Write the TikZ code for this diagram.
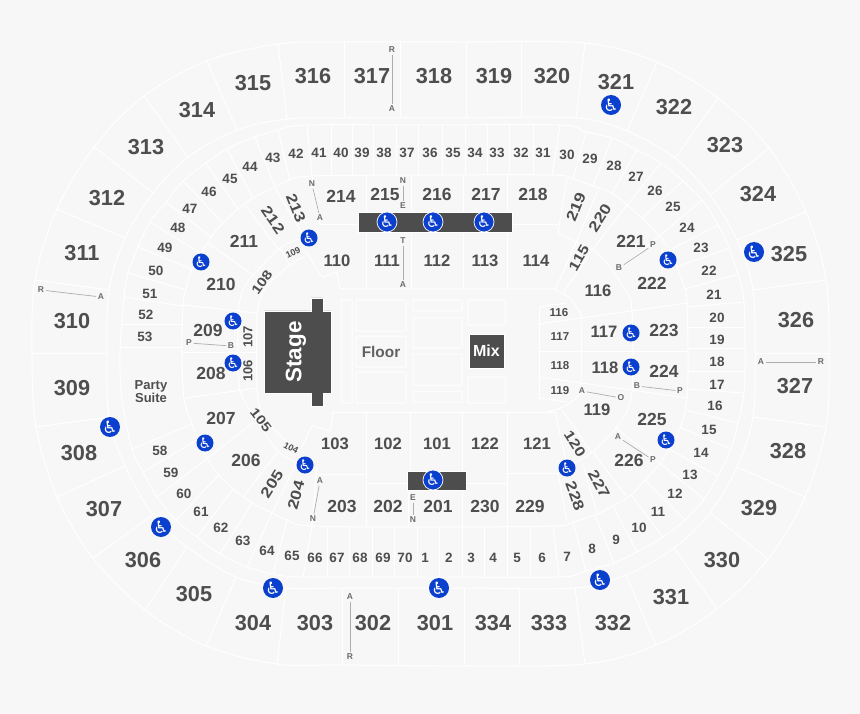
\documentclass[tikz,border=0pt]{standalone}
\usepackage{fontspec}
\setmainfont{Liberation Sans}
\newfontfamily\wcfont{DejaVu Sans}
\definecolor{bgc}{HTML}{F7F7F7}
\definecolor{txt}{HTML}{4E4E4E}
\definecolor{dark}{HTML}{4D4D4D}
\definecolor{wcblue}{HTML}{0B3FCE}
\tikzset{
 wl/.style={draw=white,line width=1pt,line join=round},
 lab/.style={text=txt,inner sep=0pt,font=\bfseries\fontsize{#1}{#1}\selectfont},
 letter/.style={text=black!58,inner sep=1.6pt,font=\fontsize{8.5}{9}\selectfont\bfseries},
 rowline/.style={draw=black!32,line width=.7pt},
 block/.style={fill=dark,draw=white,line width=.6pt},
 wcdisc/.style={circle,fill=wcblue,inner sep=0pt,minimum size=#1,text=white},
}
\newcommand{\wcicon}[4]{\node[wcdisc=#3,font=\wcfont\fontsize{#4}{#4}\selectfont] (#1) at (#2) {♿};}
\begin{document}
\begin{tikzpicture}[x=1pt,y=-1pt]
\useasboundingbox (0,0) rectangle (860,714);
\fill[bgc] (0,0) rectangle (860,714);
% rings
\draw[wl] plot[smooth cycle,tension=.55] coordinates {(32,356)(35,280)(57,209)(94,147)(144,96)(207,61)(278,44)(344,42)(460,42)(585,43)(657,62)(718,98)(769,148)(806,212)(826,280)(829,356)(826,427)(805,497)(768,559)(717,609)(656,645)(585,664)(460,666)(342,665)(277,664)(206,646)(145,610)(93,558)(57,497)(36,427)};
\draw[wl] plot[smooth cycle,tension=.55] coordinates {(107,353)(109,290)(125,238)(153,193)(188,157)(237,130)(287,119)(344,118)(460,118)(576,118)(627,131)(675,158)(710,195)(737,240)(753,290)(755,356)(753,417)(737,467)(710,513)(674,548)(626,575)(575,588)(460,588)(342,588)(286,588)(236,577)(187,547)(153,515)(125,466)(109,417)};
\draw[wl] plot[smooth cycle,tension=.55] coordinates {(120,353)(124,297)(128,273)(138,247)(150,222)(166,202)(183,181)(206,163)(227,149)(255,137)(278,130)(307,125)(430,125)(560,125)(586,132)(612,138)(637,150)(661,163)(683,181)(702,200)(718,225)(729,248)(738,274)(744,302)(745,356)(744,393)(738,423)(731,449)(718,476)(704,499)(685,520)(663,537)(637,552)(614,563)(586,571)(559,577)(430,577)(303,577)(273,574)(247,567)(220,554)(197,537)(176,520)(157,497)(143,472)(132,449)(122,400)};
\draw[wl] plot[smooth cycle,tension=.55] coordinates {(182,353)(183,305)(186,290)(192,270)(211,237)(223,223)(238,209)(253,198)(275,187)(290,180)(312,176)(430,175)(552,175)(573,179)(593,186)(612,193)(627,205)(642,218)(657,233)(670,250)(677,267)(685,289)(687,303)(688,353)(687,398)(680,428)(667,452)(659,465)(645,480)(631,495)(613,506)(595,515)(573,522)(553,526)(430,527)(312,526)(287,520)(272,513)(252,503)(233,489)(219,475)(207,458)(192,424)(184,398)};
% 300 level dividers
\foreach \a/\b/\c/\d in {344/118/344/42,287/119/278/44,400/118/400/42,466/118/466/42,521/118/521/42,576/118/585/43,627/131/657/62,675/158/718/98,710/195/769/148,737/240/806/212,753/290/826/280,755/353/829/353,753/417/826/427,737/467/805/497,710/513/768/559,674/548/717/609,626/575/656/645,575/588/585/664,519/588/519/665,464/588/464/665,398/588/398/665,342/588/342/665,286/588/277/664,236/577/206/646,187/547/145/610,153/515/93/558,125/466/57/497,109/417/36/427,107/353/32/353,109/290/35/280,125/238/57/209,153/193/94/147,188/157/144/96,237/130/207/61}
 \draw[wl] (\a,\b)--(\c,\d);
% row-section dividers
\foreach \a/\b/\c/\d in {307/125/312/176,331/125/331/175,352/125/352/175,373/125/373/175,396/125/396/175,418/125/418/175,442/125/442/175,465/125/465/175,487/125/487/175,509/125/509/175,533/125/533/175,560/125/552/175,586/132/573/179,612/138/593/186,637/150/612/193,661/163/627/205,683/181/642/218,702/200/625/265,718/225/670/250,729/248/677/267,738/274/685/289,744/302/687/307,745/327/688/327,745/348/688/348,745/371/688/371,744/393/687/389,738/423/686/410,731/449/679/427,718/476/667/448,704/499/615/427,685/520/645/480,663/537/631/495,637/552/613/506,614/563/595/515,586/571/573/522,559/577/553/526,530/577/530/527,507/577/507/527,484/577/484/527,462/577/462/527,439/577/439/527,417/577/417/527,394/577/394/527,372/577/372/527,349/577/349/527,327/577/327/527,303/577/312/526,273/574/287/520,247/567/272/513,220/554/252/503,197/537/233/489,176/520/219/475,157/497/253/423,143/472/197/440,132/449/192/424,120/347/182/347,121/324/182/324,124/297/183/306,128/273/186/290,138/247/193/270,150/222/200/253,166/202/211/237,183/181/223/223,206/163/238/209,227/149/253/198,255/137/275/187,278/130/290/180}
 \draw[wl] (\a,\b)--(\c,\d);
% 100/200 inner structure
\draw[wl] plot[smooth,tension=.5] coordinates {(238,313)(242,292)(253,275)(280,248)(302,238)};
\draw[wl] plot[smooth,tension=.5] coordinates {(257,313)(265,288)(290,265)(303,257)};
\draw[wl] plot[smooth,tension=.5] coordinates {(238,313)(238,350)(240,390)(253,415)(277,450)(303,467)};
\draw[wl] plot[smooth,tension=.5] coordinates {(257,313)(257,388)(263,415)(283,438)(302,453)};
\draw[wl] plot[smooth,tension=.5] coordinates {(593,249)(610,267)(627,293)(632,312)(632,392)(620,423)(593,452)};
\draw[wl] plot[smooth,tension=.5] coordinates {(555,290)(570,298)(578,310)(581,318)(581,383)(577,397)(563,407)(547,412)};
\foreach \a/\b/\c/\d in {208/243/253/275,245/205/278/249,275/188/302/233,280/248/290/265,183/305/257/313,182/352/257/352,185/398/257/388,277/453/243/497,272/513/297/462,312/176/320/225,320/225/358/225,512/225/558/225,567/178/558/233,558/233/593/250,598/190/577/240,577/240/555/290,627/205/593/249,593/249/563/293,539/324/581/318,581/318/687/303,539/351/688/351,539/377/687/398,539/307/539/398,539/307/565/303,539/398/568/402,366/175/366/212,411/175/411/212,463/175/463/212,507/175/507/212,366/232/366/289,411/232/411/289,463/232/463/289,507/232/507/289,366/412/366/527,410/412/410/471,408/490/408/527,462/412/462/527,507/412/507/527,317/474/366/474,366/483/407/483,466/483/507/483,507/473/558/473,558/473/567/522,555/412/567/465,562/410/592/453,567/467/592/453,583/465/597/513,593/452/626/496,333/412/555/412,333/412/330/431,330/431/312/426,312/426/302/447,317/467/312/526}
 \draw[wl] (\a,\b)--(\c,\d);
\draw[wl] (305,250)--(322,277)--(337,272)--(340,289)--(555,289);
% floor blocks
\foreach \a/\b/\c/\d in {341/300/352/403,356/300/406/331,356/336/406/367,356/372/406/403,413/300/462/311,413/318/462/348,413/354/462/385,413/391/462/402,468/300/505/325,468/377/505/403}
 \draw[wl,rounded corners=.5pt] (\a,\b) rectangle (\c,\d);
% stage, mix, bars
\path[block] (264,311)--(311,311)--(311,298)--(323,298)--(323,311)--(331,311)--(331,393)--(323,393)--(323,406)--(311,406)--(311,393)--(264,393)--cycle;
\node[text=white,inner sep=0pt,rotate=90,font=\bfseries\fontsize{22.4}{24}\selectfont] (stage) at (296,352) {Stage};
\node[block,minimum width=35pt,minimum height=34pt,inner sep=0pt,text=white,font=\bfseries\fontsize{16}{18}\selectfont] (mix) at (486.5,351) {Mix};
\node[block,minimum width=154pt,minimum height=20pt,inner sep=0pt] (bartop) at (435,222) {};
\node[block,minimum width=59pt,minimum height=19pt,inner sep=0pt] (barbot) at (436.5,480.5) {};
\node[lab=15.4,text=black!62] (floor) at (381,352) {Floor};
\node[lab=13,align=center,font=\bfseries\fontsize{13}{12.5}\selectfont] (suite) at (151,391.5) {Party\\Suite};
% big labels
\foreach \t/\x/\y in {316/313/76,317/372/76,318/434/76,319/494/76,320/552/76,321/616/82,322/674/107,323/725/145,324/758/194,325/789/254,326/796/320,327/795/386,328/788/451,329/759/508,330/722/560,331/671/597,332/613/623,333/549/623,334/493/623,301/435/623,302/373/623,303/315/623,304/253/623,305/194/594,306/143/560,307/104/509,308/79/453,309/72/388,310/72/321,311/82/253,312/107/198,313/146/147,314/197/110,315/253/83}
 \node[lab=21.7] (s\t) at (\x,\y) {\t};
% row labels
\foreach \t/\x/\y in {42/296/154,41/319/153,40/341/153,39/362/153,38/384/153,37/407/153,36/430/153,35/453/153,34/475/153,33/497/153,32/521/153,31/543/153,30/567/155,29/590/159,28/614/166,27/636/177,26/655/191,25/673/207,24/687/228,23/701/248,22/709/271,21/714/295,20/717/318,19/717/340,18/717/362,17/717/385,16/715/406,15/709/430,14/701/453,13/690/475,12/675/494,11/658/512,10/639/528,9/616/540,8/592/549,7/567/557,6/542/558,5/517/558,4/493/558,3/471/558,2/449/558,1/425/558,70/405/558,69/383/558,68/360/558,67/337/558,66/315/558,65/292/556,64/267/551,63/243/541,62/221/528,61/201/512,60/184/494,59/171/473,58/160/451,53/145/337,52/146/315,51/150/294,50/156/271,49/165/248,48/178/228,47/190/209,46/209/192,45/230/179,44/250/167,43/273/158}
 \node[lab=13.5] (r\t) at (\x,\y) {\t};
% club labels
\foreach \t/\x/\y in {214/341/196,215/385/194,216/437/194,217/486/194,218/533/194,221/631/241,222/652/283,223/664/330,224/664/371,225/652/419,226/629/460,229/530/506,230/485/506,201/438/506,202/388/506,203/342/506,206/246/460,207/221/418,208/211/373,209/208/330,210/221/284,211/244/241}
 \node[lab=17.5] (m\t) at (\x,\y) {\t};
\foreach \t/\x/\y in {110/337/261,111/387/261,112/437/261,113/485/261,114/536/261,116/598/291,117/604/332,118/605/368,119/597/410,121/537/444,122/485/444,101/437/444,102/388/444,103/335/444}
 \node[lab=16.6] (m\t) at (\x,\y) {\t};
% slanted labels, drawn wide and low
\foreach \t/\x/\y/\r/\s in {219/576/207/68/14.8,220/600/218/58/14.8,227/599/484/-62/14.8,228/575/496/-70/14.8,204/296/495/75/14.8,205/272/484/58/14.8,212/273/220/-55/14.8,213/296/208/-68/14.8,115/579/258/60/14,120/575/444/-58/14,105/261/420/-52/13,108/262/282/55/13}
 \node[lab=\s,rotate=\r] (l\t) at (\x,\y) {\scalebox{1.2}[1]{\t}};
\foreach \t/\x/\y/\r/\s in {106/248/371/90/13,107/248/337/90/13,104/291/448/-28/9,109/293/253/25/9}
 \node[lab=\s,rotate=\r] (l\t) at (\x,\y) {\t};
\foreach \t/\x/\y in {116/559/313,117/560/337,118/560/366,119/560/391}
 \node[lab=11.5] (q\t) at (\x,\y) {\t};
% row letters and their lines
\foreach \n/\t/\x/\y in {a/R/392/50,b/A/392/109,c/R/41/290,d/A/101/297,e/N/312/184,f/A/320/218,g/N/403/181,h/E/403/206,i/T/403/241,j/A/403/285,k/P/189/343,l/B/231/346,m/P/653/245,n/B/619/268,o/B/637/386,p/P/680/391,q/A/582/391,r/O/621/398,s/A/618/437,t/P/653/460,u/A/761/362,v/R/821/362,w/A/350/597,x/R/350/657,y/A/320/481,z/N/313/519,aa/E/413/498,ab/N/413/520}
 \node[letter] (L\n) at (\x,\y) {\t};
\foreach \p/\q in {a/b,c/d,e/f,g/h,i/j,k/l,m/n,o/p,q/r,s/t,u/v,w/x,y/z,aa/ab}
 \draw[rowline] (L\p)--(L\q);
% access icons
\foreach \i/\x/\y in {a/611/105,b/754/252,c/110/427,d/161/527,e/273/588,f/439/588,g/600/580}
 {\wcicon{W\i}{\x,\y}{20pt}{17}}
\foreach \i/\x/\y in {h/309/238,j/201/262,k/233/321,l/233/363,m/205/443,n/305/465,o/567/468,p/666/440,q/631/333,r/631/367,s/668/260}
 {\wcicon{W\i}{\x,\y}{17pt}{14.5}}
\foreach \i/\x/\y in {t/387/222,u/433/222,v/484/222,w/433/480}
 {\node[circle,draw=white,line width=.7pt,fill=wcblue,minimum size=20pt,inner sep=0pt,text=white,font=\wcfont\fontsize{16}{16}\selectfont] (W\i) at (\x,\y) {♿};}
\end{tikzpicture}
\end{document}
